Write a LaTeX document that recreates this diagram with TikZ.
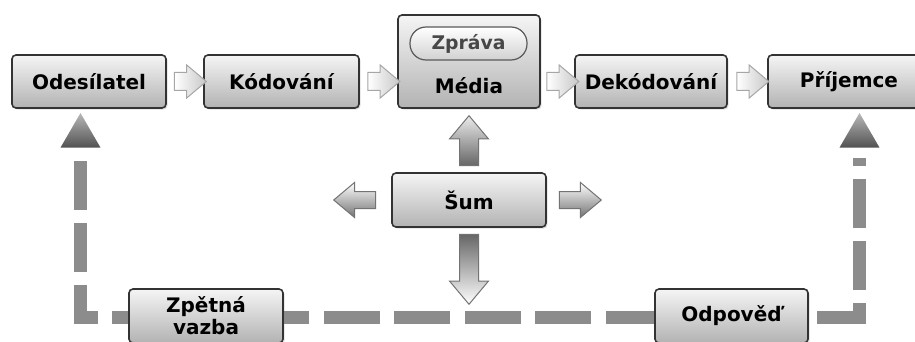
\documentclass[tikz,border=0pt]{standalone}
\usepackage{fontspec}
\setmainfont{DejaVu Sans}
\usetikzlibrary{positioning,shadows,shapes,calc}

\begin{document}
\begin{tikzpicture}
  [x=0.5pt, y=-0.5pt, font=\fontsize{10}{11}\selectfont\bfseries,
  box/.style={rectangle, rounded corners=2pt, draw=black!80, line width=0.8pt,
    top color=black!4, bottom color=black!30, inner sep=0pt,
    minimum height=26.5pt, align=center,
    drop shadow={opacity=0.25, shadow xshift=0.8pt, shadow yshift=-0.8pt}},
  pill/.style={rectangle, rounded corners=8pt, draw=black!65, line width=0.6pt,
    top color=white, bottom color=black!18, text=black!72,
    minimum width=58.5pt, minimum height=16.5pt, inner sep=0pt,
    font=\fontsize{9.4}{11}\selectfont\bfseries},
  flow/.style={single arrow, draw=black!35, line width=0.5pt,
    left color=white, right color=black!22, inner xsep=0pt, inner ysep=4.25pt,
    single arrow head extend=3.75pt, single arrow tip angle=80,
    minimum height=16pt},
  noise/.style={single arrow, draw=black!55, line width=0.5pt,
    single arrow tip angle=80},
  noisev/.style={noise, inner xsep=4.5pt, inner ysep=0pt,
    single arrow head extend=5pt},
  noiseh/.style={noise, inner xsep=0pt, inner ysep=4pt,
    single arrow head extend=4.5pt,
    minimum height=21pt, top color=white, bottom color=black!55},
  tri/.style={regular polygon, regular polygon sides=3, minimum size=23pt,
    inner sep=0pt, top color=black!28, bottom color=black!68},
  fbh/.style={draw=black!45, line width=6.5pt,
    dash pattern=on 28pt off 7.25pt, dash phase=3.5pt,
    shorten <=-3.25pt, shorten >=-3.25pt},
  fbv/.style={draw=black!45, line width=6.5pt,
    dash pattern=on 24.25pt off 6.75pt}]

  \useasboundingbox (0,0) rectangle (915,342);

  % feedback loop
  \coordinate (cl) at (80.5,317.5);
  \coordinate (cr) at (859.5,317.5);
  \node[tri] (tril) at (80.5,136) {};
  \node[tri] (trir) at (859.5,136) {};
  \draw[fbh] (cr) -- (cl);
  \draw[fbv, dash phase=17pt, shorten >=5pt] (cr) -- (trir.south);
  \draw[fbv, dash phase=8pt, shorten >=6pt] (cl) -- (tril.south);

  % main row
  \node[box, minimum width=77pt] (odes) at (89,81.5) {Odesílatel};
  \node[box, minimum width=77.5pt] (kod) at (281.5,81.5) {Kódování};
  \node[box, minimum width=71pt, minimum height=46.5pt] (media) at (469,61.5) {};
  \node[pill] (zprava) at (468.5,43.5) {Zpráva};
  \node (medtxt) at (469,86) {Média};
  \node[box, minimum width=76pt] (dekod) at (651,81.5) {Dekódování};
  \node[box, minimum width=81pt] (prij) at (849,81.5) {Příjemce};

  \node[flow] (a1) at ($(odes.east)!0.5!(kod.west)$) {};
  \node[flow] (a2) at ($(kod.east)!0.5!(kod.east -| media.west)$) {};
  \node[flow] (a3) at ($(dekod.west -| media.east)!0.5!(dekod.west)$) {};
  \node[flow] (a4) at ($(dekod.east)!0.5!(prij.west)$) {};

  % noise
  \node[box, minimum width=77pt, minimum height=27pt] (sum) at (469,200) {Šum};
  \node[noisev, minimum height=25pt, shape border rotate=90,
    top color=black!8, bottom color=black!60,
    above=3pt of sum, anchor=tail] (nup) {};
  \node[noisev, minimum height=35pt, shape border rotate=270,
    top color=black!60, bottom color=white,
    below=3pt of sum, anchor=tail] (ndown) {};
  \node[noiseh, shape border rotate=180, left=7.5pt of sum, anchor=tail] (nleft) {};
  \node[noiseh, right=6pt of sum, anchor=tail] (nright) {};

  % bottom row
  \node[box, minimum width=77pt, minimum height=27pt] (zpet) at (206,316) {Zpětná\\vazba};
  \node[box, minimum width=76.5pt, minimum height=27pt] (odpov) at (731.5,316) {Odpověď};
\end{tikzpicture}
\end{document}
